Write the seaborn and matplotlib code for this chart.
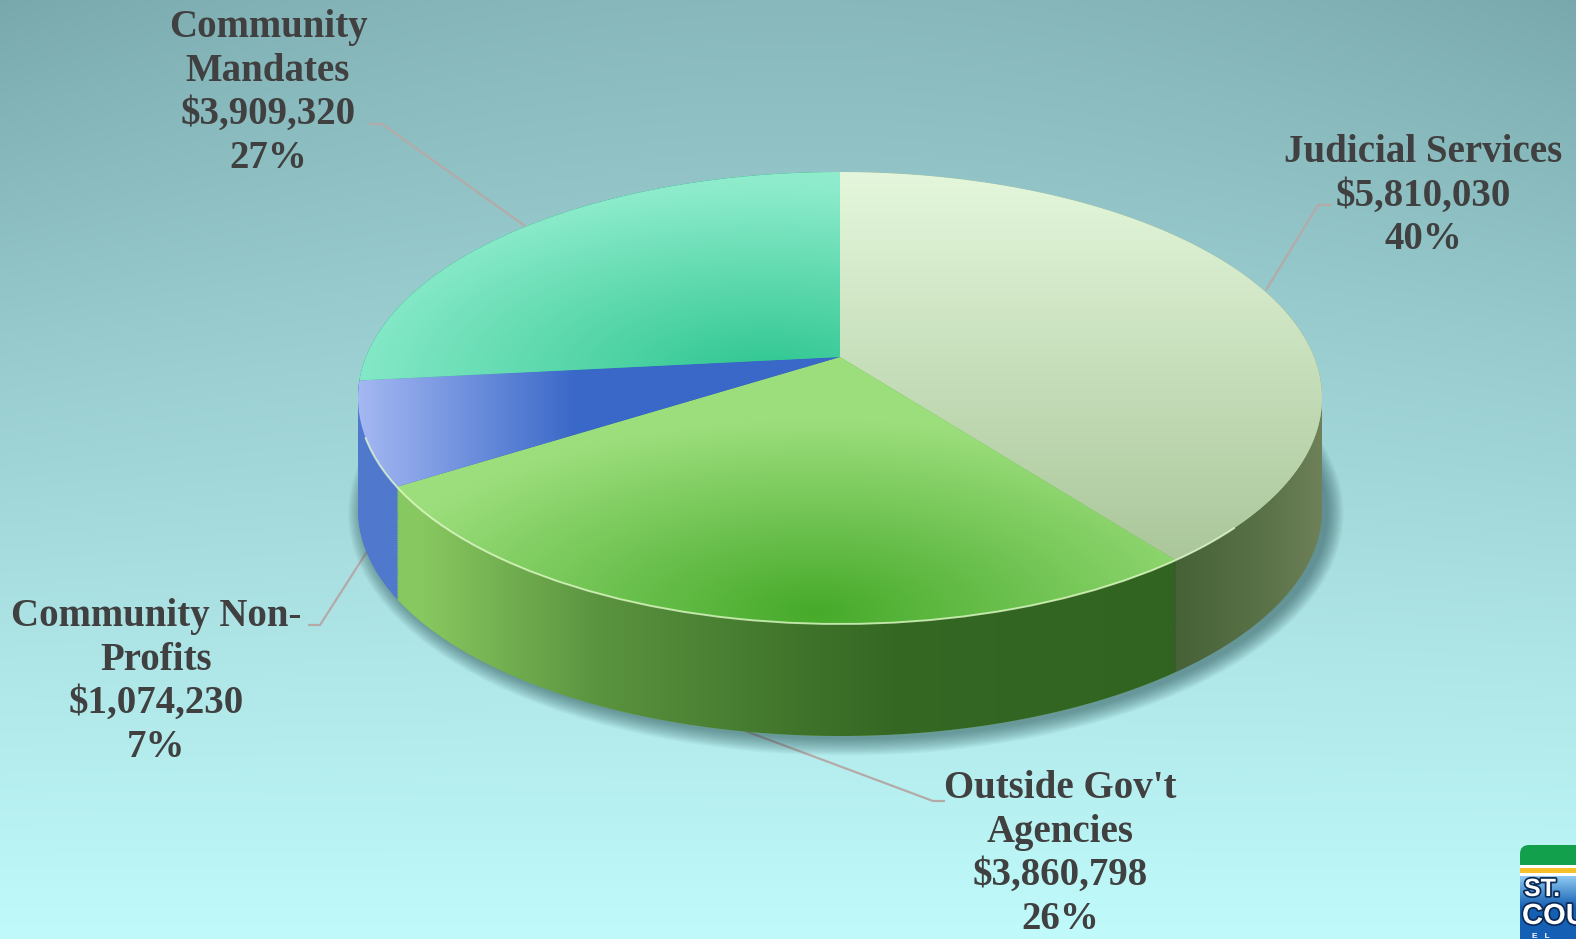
import numpy as np
import matplotlib
matplotlib.use("Agg")
import matplotlib.pyplot as plt
import matplotlib.colors as mcolors
import matplotlib.patheffects as pe
from matplotlib.patches import Polygon, Ellipse, Arc, FancyBboxPatch, Rectangle
from matplotlib.transforms import Transform, Affine2D
from matplotlib.path import Path
import seaborn as sns

sns.set_theme(style="white")
plt.rcParams['font.family'] = ['Liberation Serif', 'DejaVu Serif']

# ---- data ----
categories = ["Judicial Services", "Outside Gov't\nAgencies",
              "Community Non-\nProfits", "Community\nMandates"]
amounts = [5810030, 3860798, 1074230, 3909320]
percents = ["40%", "26%", "7%", "27%"]

top_light = ["#e4f7dc", "#9cde7c", "#a4b8f2", "#8eeccc"]
top_dark = ["#abc79b", "#46aa2a", "#3a68c8", "#2ec690"]
side_colors = ["#7a8a62", "#88c860", "#5078cc", "#2a9a70"]

W, H = 1576, 939
fig = plt.figure(figsize=(W / 100, H / 100), dpi=100)


class Tilt(Transform):
    """Projective tilt of the unit disc: keeps the rim circle, lifts the centre."""
    input_dims = output_dims = 2
    is_separable = False
    has_inverse = False

    def __init__(self, a):
        super().__init__()
        self.a = a

    def transform_non_affine(self, values):
        v = np.asarray(values, float)
        x, y = v[:, 0], v[:, 1]
        den = 1 + self.a * y
        return np.column_stack([x * np.sqrt(1 - self.a ** 2) / den, (y + self.a) / den])

    def transform_path_non_affine(self, path):
        verts, codes = [], []
        for seg, code in path.iter_bezier():
            cp = seg.control_points
            if code == Path.MOVETO:
                verts.append(cp[-1])
                codes.append(Path.MOVETO)
            elif len(cp) <= 2:
                verts.append(cp[-1])
                codes.append(Path.LINETO)
            else:
                pts = seg(np.linspace(0, 1, 33)[1:])
                verts.extend(pts)
                codes.extend([Path.LINETO] * len(pts))
        verts = np.asarray(verts, float)
        return Path(self.transform_non_affine(verts), codes)


# ---- background ----
bg = fig.add_axes([0, 0, 1, 1])
bg.set_xlim(0, W)
bg.set_ylim(H, 0)
bg.axis('off')
yy, xx = np.mgrid[0:1:240j, 0:1:400j]
c_top = np.array(mcolors.to_rgb("#88b8bc"))
c_bot = np.array(mcolors.to_rgb("#c0fafa"))
bg_img = c_top * (1 - yy[..., None]) + c_bot * yy[..., None]
vign = ((1 - yy) ** 2 * (np.abs(xx - 0.5) * 2) ** 2)[..., None]
bg_img = np.clip(bg_img - 0.06 * vign, 0, 1)
bg.imshow(bg_img, extent=(0, W, H, 0), aspect='auto', interpolation='bicubic', zorder=0)

# ---- pie axes: unit disc mapped onto the canvas ----
cx, cy, rx, ry = 840, 398, 482, 226
depth = 112 / ry
tilt = Tilt(41 / ry)
pa = fig.add_axes([0, 0, 1, 1])
pa.patch.set_alpha(0)


def shade(ax, fn, light, dark, clip, extent=(-1, 1, -1, 1), n=300, zorder=3):
    x0, x1, y0, y1 = extent
    X, Y = np.meshgrid(np.linspace(x0, x1, n), np.linspace(y0, y1, n))
    s = np.clip(fn(X, Y), 0, 1)[..., None]
    c0 = np.array(mcolors.to_rgba(light))
    c1 = np.array(mcolors.to_rgba(dark))
    img = c0 * (1 - s) + c1 * s
    im = ax.imshow(img, extent=extent, origin='lower', aspect='auto',
                   interpolation='bilinear', zorder=zorder)
    im.set_clip_path(clip)
    return im


# soft drop shadow beneath the cylinder
for k in range(14):
    e = 0.0025 * k
    pa.add_patch(Ellipse((0.012, -depth - 0.015), 2 * (1 + e), 2 * (1 + e * 2.2),
                         facecolor="#1c4448", edgecolor='none', alpha=0.045, zorder=0.5))

# side wall: stacked copies of the pie pushed downward
n_layers = 60
for k in range(n_layers + 1):
    off = -depth * (1 - k / n_layers)
    ws, _ = pa.pie(amounts, startangle=90, counterclock=False, radius=1, center=(0, 0),
                   colors=side_colors, wedgeprops=dict(linewidth=0, zorder=1))
    for w in ws:
        w.set_transform(tilt + Affine2D().translate(0, off) + pa.transData)

# where the first slice meets the second on the front rim
ang = np.deg2rad(90 - 360 * amounts[0] / sum(amounts))
edge_x = tilt.transform_non_affine([[np.cos(ang), np.sin(ang)]])[0, 0]

# lighting along the side wall
th = np.linspace(np.pi, 2 * np.pi, 300)
upper = np.c_[np.cos(th), np.sin(th)]
lower = np.c_[np.cos(th[::-1]), np.sin(th[::-1]) - depth]
band = Polygon(np.vstack([upper, lower]), closed=True, transform=pa.transData,
               facecolor='none', edgecolor='none')
xk = [-1.0, -0.87, -0.5, -0.08, 0.12, edge_x - 0.002, edge_x + 0.002, 0.9, 1.0]
dk = [0.0, 0.0, 0.35, 0.56, 0.64, 0.66, 0.45, 0.25, 0.1]
shade(pa, lambda X, Y: np.interp(X, xk, dk), (0.02, 0.19, 0.0, 0), (0.02, 0.19, 0.0, 1),
      band, extent=(-1, 1, -1 - depth, 0), n=1200, zorder=2)

# top face
wedges, _ = pa.pie(amounts, startangle=90, counterclock=False, radius=1, center=(0, 0),
                   colors=top_dark, wedgeprops=dict(linewidth=0, zorder=3))
for w in wedges:
    w.set_transform(tilt + pa.transData)

shade_fns = [
    lambda X, Y: (1 - Y) / 1.7,
    lambda X, Y: 1 - np.sqrt(((X + 0.05) / 0.95) ** 2 + ((Y + 0.95) / 0.85) ** 2),
    lambda X, Y: (X + 1.0) / 0.45,
    lambda X, Y: 1 - np.sqrt(((X + 0.15) / 0.95) ** 2 + ((Y - 0.1) / 0.85) ** 2),
]
for w, fn, lt, dkc in zip(wedges, shade_fns, top_light, top_dark):
    shade(pa, fn, lt, dkc, w, zorder=4)

# bright rim along the front edge of the top face
pa.add_patch(Arc((0, 0), 2, 2, theta1=190, theta2=325, color="#e8ffd0", lw=1.4,
                 alpha=0.75, zorder=5))

pa.set_aspect('auto')
pa.set_xlim((0 - cx) / rx, (W - cx) / rx)
pa.set_ylim((cy - H) / ry, (cy - 0) / ry)
pa.axis('off')

# ---- labels and leader lines ----
label_pos = [(1423, 196), (1060, 854), (156, 682), (268, 93)]
leaders = [
    [(1332, 205), (1318, 205), (1266, 290)],
    [(945, 801), (933, 801), (740, 729)],
    [(308, 625), (320, 625), (377, 536)],
    [(369, 124), (382, 124), (525, 226)],
]
for name, amt, pct, (lx, ly), pts in zip(categories, amounts, percents, label_pos, leaders):
    txt = f"{name}\n${amt:,.0f}\n{pct}"
    bg.text(lx, ly, txt, ha='center', va='center', multialignment='center',
            fontsize=28, fontweight='bold', color="#404040", linespacing=1.23, zorder=6)
    px, py = zip(*pts)
    bg.plot(px, py, color="#b4aaa8", lw=1.6, zorder=5, solid_capstyle='butt')

# ---- corner logo ----
ov = fig.add_axes([0, 0, 1, 1])
ov.patch.set_alpha(0)
ov.add_patch(FancyBboxPatch((1520, 845), 120, 60, boxstyle="round,pad=0,rounding_size=9",
                            facecolor="#12a04c", edgecolor='none', zorder=1))
ov.add_patch(Rectangle((1520, 865), 120, 11, facecolor="white", edgecolor='none', zorder=2))
ov.add_patch(Rectangle((1520, 868), 120, 5, facecolor="#f5c02a", edgecolor='none', zorder=3))
gy = np.linspace(0, 1, 60)[:, None, None]
mix = np.clip(gy * 2.2, 0, 1)
blue_img = (np.array(mcolors.to_rgb("#8cc8f0")) * (1 - mix)
            + np.array(mcolors.to_rgb("#1560b4")) * mix)
blue_img = np.repeat(blue_img, 4, axis=1)
ov.imshow(blue_img, extent=(1520, 1640, H + 5, 876), aspect='auto', zorder=3,
          interpolation='bilinear')
ov.set_xlim(0, W)
ov.set_ylim(H, 0)
ov.axis('off')
shadow = [pe.withStroke(linewidth=2.5, foreground="#0b2a55")]
ov.text(1524, 889, "ST.", color="white", fontsize=18, fontweight='bold',
        family='Liberation Sans', va='center', ha='left', zorder=4, path_effects=shadow)
ov.text(1522, 916, "COU", color="white", fontsize=21, fontweight='bold',
        family='Liberation Sans', va='center', ha='left', zorder=4, path_effects=shadow)
ov.text(1532, 936, "E   L", color="white", fontsize=6, fontweight='bold',
        family='Liberation Sans', va='center', ha='left', zorder=4)

fig.savefig("out.png", dpi=100)
